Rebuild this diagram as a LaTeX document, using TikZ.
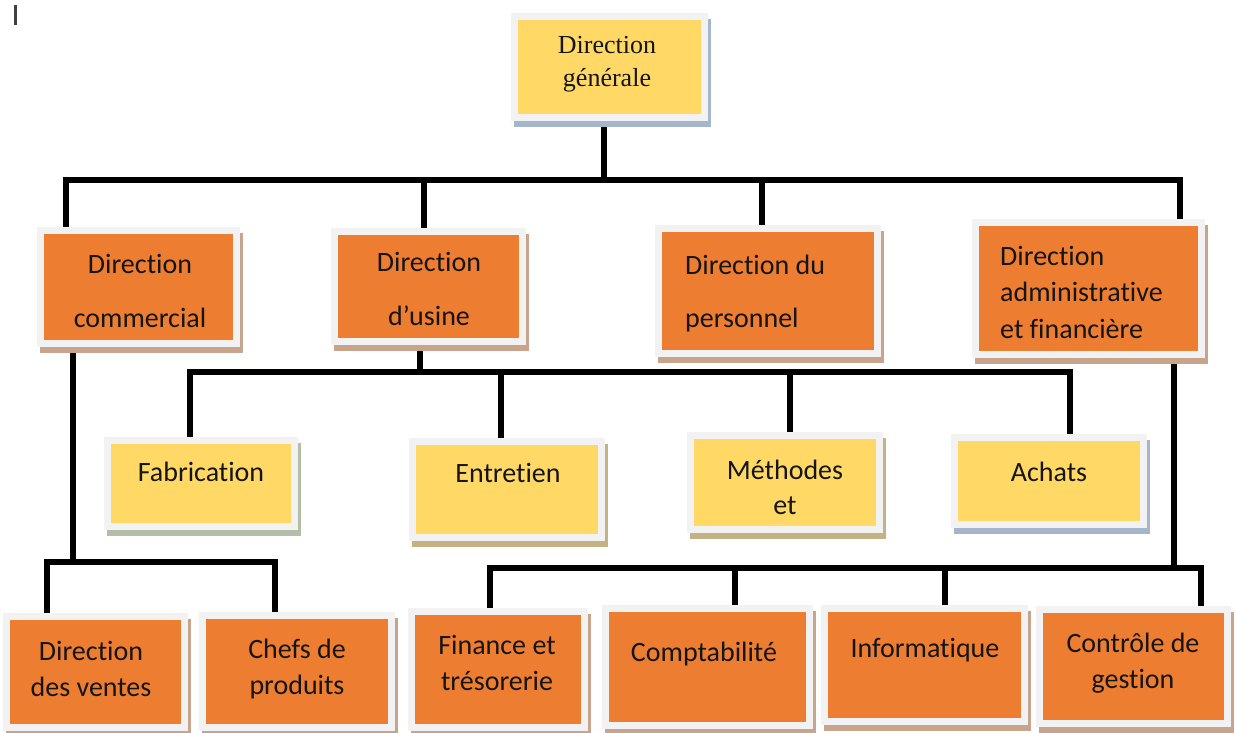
\documentclass[tikz,border=0pt]{standalone}
\usepackage{fontspec}
\setmainfont{Carlito}[Ligatures=NoCommon]
\newfontfamily\timesfam{Liberation Serif}
\usetikzlibrary{shadows}
\definecolor{boxorange}{HTML}{ED7D31}
\definecolor{boxyellow}{HTML}{FFD865}
\definecolor{framegray}{HTML}{F2F2F2}
\definecolor{shbrown}{HTML}{C9A48C}
\definecolor{shblue}{HTML}{A5B6CB}
\definecolor{shgreen}{HTML}{B3BEA6}
\definecolor{shtan}{HTML}{C4B284}
\definecolor{inkblack}{HTML}{151515}
\pgfdeclarelayer{bg}
\pgfsetlayers{bg,main}
\tikzset{
  box/.style={rectangle, draw=framegray, line width=7pt, inner sep=0pt},
  sh/.style={drop shadow={shadow xshift=3pt, shadow yshift=-6pt, opacity=1,
      fill=#1, draw=#1, line width=7pt}},
  obox/.style={box, fill=boxorange, sh=shbrown},
  ybox/.style={box, fill=boxyellow, sh=#1},
  txt/.style={anchor=base, align=center, inner sep=0pt, text=inkblack,
      font=\fontsize{28}{36}\selectfont},
  conn/.style={line width=5.5pt, black, line join=miter}
}
\begin{document}
\begin{tikzpicture}[x=1pt,y=-1pt]
\useasboundingbox (0,0) rectangle (1236,733);
% text cursor mark
\fill[black!75] (14,5) rectangle (16.5,25);

% top level
\node[ybox=shblue, minimum width=190, minimum height=101] (dg) at (609.5,67) {};
\node[txt, font=\timesfam\fontsize{26}{33}\selectfont] (dg-t) at (607,87) {Direction\\générale};

% directions
\node[obox, minimum width=196, minimum height=113] (dc) at (138.5,287) {};
\node[obox, minimum width=188, minimum height=110] (du) at (428.5,286.5) {};
\node[obox, minimum width=219, minimum height=125] (dp) at (768,291) {};
\node[obox, minimum width=226, minimum height=132] (da) at (1088.5,288.5) {};
\node[txt, font=\fontsize{28}{54}\selectfont] (dc-t) at (140,327) {Direction\\commercial};
\node[txt, font=\fontsize{28}{54}\selectfont] (du-t) at (429,325) {Direction\\d’usine};
\node[txt, anchor=base west, align=left, font=\fontsize{28}{53}\selectfont] (dp-t) at (685,327) {Direction du\\personnel};
\node[txt, anchor=base west, align=left, font=\fontsize{28}{36.5}\selectfont] (da-t) at (1000,338) {Direction\\administrative\\et financière};

% services of the plant
\node[ybox=shgreen, minimum width=187, minimum height=86] (fab) at (201,483.5) {};
\node[ybox=shtan, minimum width=189, minimum height=96] (ent) at (507,489.5) {};
\node[ybox=shtan, minimum width=189, minimum height=94] (met) at (785,482.5) {};
\node[ybox=shblue, minimum width=189, minimum height=87] (ach) at (1049,481) {};
\node[txt] (fab-t) at (201,481) {Fabrication};
\node[txt] (ent-t) at (508,482) {Entretien};
\node[txt, font=\fontsize{28}{35}\selectfont] (met-t) at (785,514) {Méthodes\\et};
\node[txt] (ach-t) at (1049,481) {Achats};

% commercial services
\node[obox, minimum width=178, minimum height=111] (ven) at (95.5,672) {};
\node[obox, minimum width=189, minimum height=112] (chf) at (297,671.5) {};
\node[txt] (ven-t) at (91,696) {Direction\\des ventes};
\node[txt] (chf-t) at (297,694) {Chefs de\\produits};

% administrative and financial services
\node[obox, minimum width=173, minimum height=116] (fin) at (498,669.5) {};
\node[obox, minimum width=204, minimum height=117] (cpt) at (707.5,667) {};
\node[obox, minimum width=200, minimum height=113] (inf) at (924.5,665) {};
\node[obox, minimum width=188, minimum height=114] (ctl) at (1133.5,666.5) {};
\node[txt] (fin-t) at (497,690) {Finance et\\trésorerie};
\node[txt] (cpt-t) at (704,661) {Comptabilité};
\node[txt] (inf-t) at (925,657) {Informatique};
\node[txt, font=\fontsize{28}{36}\selectfont] (ctl-t) at (1133,688) {Contrôle de\\gestion};

\begin{pgfonlayer}{bg}
\fill[white] (0,0) rectangle (1236,733);
% first level bar
\coordinate (aT) at (604,180);
\coordinate (aL) at (66,180);
\coordinate (aU) at (424,180);
\coordinate (aP) at (762,180);
\coordinate (aR) at (1180,180);
\draw[conn] (dg.south -| aT) -- (aT);
\draw[conn] (dc.north -| aL) -- (aL) -- (aR) -- (da.north -| aR);
\draw[conn] (du.north -| aU) -- (aU);
\draw[conn] (dp.north -| aP) -- (aP);
% plant bar
\coordinate (bU) at (420,372);
\coordinate (bF) at (190,372);
\coordinate (bE) at (501,372);
\coordinate (bM) at (790,372);
\coordinate (bA) at (1070,372);
\draw[conn] (du.south -| bU) -- (bU);
\draw[conn] (fab.north -| bF) -- (bF) -- (bA) -- (ach.north -| bA);
\draw[conn] (ent.north -| bE) -- (bE);
\draw[conn] (met.north -| bM) -- (bM);
% commercial bar
\coordinate (cT) at (73,562);
\coordinate (cL) at (47,562);
\coordinate (cR) at (275,562);
\draw[conn] (dc.south -| cT) -- (cT);
\draw[conn] (ven.north -| cL) -- (cL) -- (cR) -- (chf.north -| cR);
% administrative bar
\coordinate (dT) at (1174,568);
\coordinate (dL) at (490,568);
\coordinate (dC) at (735,568);
\coordinate (dI) at (945,568);
\coordinate (dR) at (1201,568);
\draw[conn] (da.south -| dT) -- (dT);
\draw[conn] (fin.north -| dL) -- (dL) -- (dR) -- (ctl.north -| dR);
\draw[conn] (cpt.north -| dC) -- (dC);
\draw[conn] (inf.north -| dI) -- (dI);
\end{pgfonlayer}
\end{tikzpicture}
\end{document}
